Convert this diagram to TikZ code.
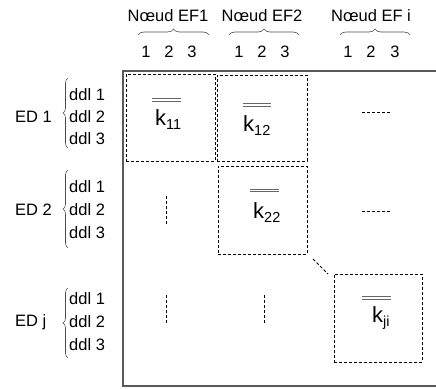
\documentclass[tikz,border=0pt]{standalone}
\usepackage{fontspec}
\setmainfont{Liberation Sans}
\usetikzlibrary{decorations.pathreplacing}
\newcommand{\kmat}[1]{{\fontsize{22}{22}\selectfont k}\raisebox{-4pt}{\fontsize{14.5}{14.5}\selectfont #1}}
\begin{document}
\begin{tikzpicture}[x=1pt,y=-1pt,
  lbl/.style={font=\fontsize{16.5}{18}\selectfont, inner sep=0pt},
  dbox/.style={draw, dash pattern=on 3pt off 2pt, line width=0.8pt},
  ddash/.style={dash pattern=on 3pt off 2pt, line width=0.8pt},
  frame/.style={draw=black!65, line width=1.4pt},
  brc/.style={draw=black!70, line width=0.6pt, decorate, decoration={brace, amplitude=5pt}},
  dbar/.style={draw=black!60, line width=0.7pt},
  kl/.style={inner sep=0pt, anchor=base west}]
\useasboundingbox (0,0) rectangle (436,388);

% frame
\draw[frame] (436,71) -- (123,71) -- (123,386) -- (436,386);

% top labels
\node[lbl] (n1) at (168,15.5) {Nœud EF1};
\node[lbl] (n2) at (262,15.5) {Nœud EF2};
\node[lbl] (ni) at (371,15.5) {Nœud EF i};
\draw[brc, decoration={amplitude=6pt}] (138,35) -- (209,35);
\draw[brc, decoration={amplitude=6pt}] (229,35) -- (299,35);
\draw[brc, decoration={amplitude=6pt}] (340,35) -- (410,35);
\foreach \c/\x in {a/146,b/169,c/192,d/239,e/262,f/285,g/348,h/371,i/395}{
  \node[lbl] (num\c) at (\x,52) {};
}
\node[lbl] at (numa) {1}; \node[lbl] at (numb) {2}; \node[lbl] at (numc) {3};
\node[lbl] at (numd) {1}; \node[lbl] at (nume) {2}; \node[lbl] at (numf) {3};
\node[lbl] at (numg) {1}; \node[lbl] at (numh) {2}; \node[lbl] at (numi) {3};

% left labels
\node[lbl, anchor=west] (ed1) at (15,117) {ED 1};
\node[lbl, anchor=west] (ed2) at (15,210) {ED 2};
\node[lbl, anchor=west] (edj) at (15,322) {ED j};
\draw[brc] (68,148) -- (68,78);
\draw[brc] (68,248) -- (68,170);
\draw[brc] (68,358) -- (68,288);
\foreach \r/\y in {1/95,2/117,3/139}{\node[lbl, anchor=west] (a\r) at (69,\y) {ddl \r};}
\foreach \r/\y in {1/187,2/210,3/233}{\node[lbl, anchor=west] (b\r) at (69,\y) {ddl \r};}
\foreach \r/\y in {1/299,2/322,3/345}{\node[lbl, anchor=west] (c\r) at (69,\y) {ddl \r};}

% dashed blocks
\node[dbox, minimum width=89pt, minimum height=87pt, inner sep=0pt] (b11) at (170.5,117.5) {};
\node[dbox, minimum width=90pt, minimum height=86pt, inner sep=0pt] (b12) at (262,118) {};
\node[dbox, minimum width=89pt, minimum height=88pt, inner sep=0pt] (b22) at (262.5,210) {};
\node[dbox, minimum width=88pt, minimum height=88pt, inner sep=0pt] (bji) at (378,318) {};

% k labels
\node[kl] (k11) at (155,125) {\kmat{11}};
\node[kl] (k12) at (243,131) {\kmat{12}};
\node[kl] (k22) at (253,218) {\kmat{22}};
\node[kl] (kji) at (372,322) {\kmat{ji}};
\draw[dbar] (152,98.5) -- (181,98.5) (152,101) -- (181,101);
\draw[dbar] (243,103.5) -- (271,103.5) (243,106) -- (271,106);
\draw[dbar] (250,189) -- (279,189) (250,191.5) -- (279,191.5);
\draw[dbar] (362,296.5) -- (391,296.5) (362,299) -- (391,299);

% ellipsis dashes
\coordinate (h1a) at (362,112); \coordinate (h1b) at (391,112);
\coordinate (h2a) at (362,211); \coordinate (h2b) at (391,211);
\coordinate (v1a) at (166,196); \coordinate (v1b) at (166,225);
\coordinate (v2a) at (166,295); \coordinate (v2b) at (166,323);
\coordinate (v3a) at (264,295); \coordinate (v3b) at (264,323);
\coordinate (da) at (313,259); \coordinate (db) at (328,274);
\draw[ddash] (h1a) -- (h1b);
\draw[ddash] (h2a) -- (h2b);
\draw[ddash] (v1a) -- (v1b);
\draw[ddash] (v2a) -- (v2b);
\draw[ddash] (v3a) -- (v3b);
\draw[ddash] (da) -- (db);
\end{tikzpicture}
\end{document}
